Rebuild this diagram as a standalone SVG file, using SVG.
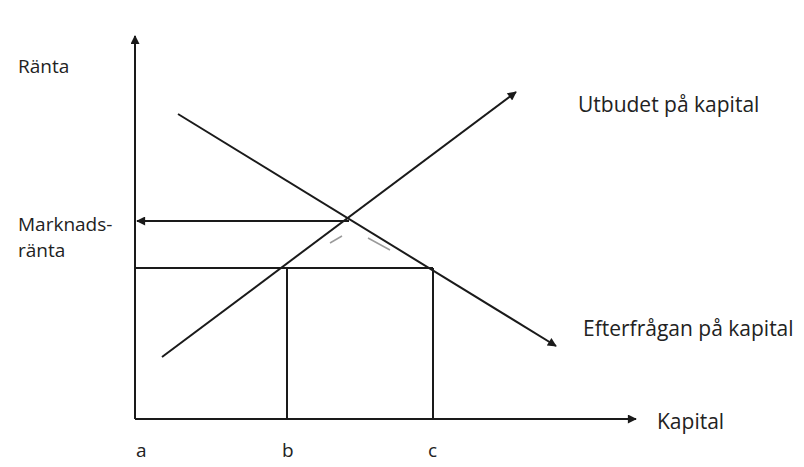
<svg xmlns="http://www.w3.org/2000/svg" width="804" height="467" viewBox="0 0 804 467">
<style>
  .ln { stroke: #1a1a1a; stroke-width: 2; fill: none; }
  .faint { stroke: #9a9a9a; stroke-width: 1.5; fill: none; }
  .lbl { font-family: "Open Sans", "Noto Sans", sans-serif; font-size: 21px; fill: #222; }
  .sm { font-size: 19px; }
</style>
<defs>
  <marker id="arrB" viewBox="0 0 10 10" refX="9" refY="5" markerWidth="14" markerHeight="9" markerUnits="userSpaceOnUse" orient="auto">
    <path d="M0,0 L10,5 L0,10 z" fill="#1a1a1a"/>
  </marker>
</defs>
<rect width="804" height="467" fill="#ffffff"/>
<g id="connectors">
  <line id="y-axis" class="ln" x1="135" y1="419" x2="135" y2="36" marker-end="url(#arrB)"/>
  <line id="x-axis" class="ln" x1="135" y1="419" x2="636" y2="419" marker-end="url(#arrB)"/>
  <line id="supply" class="ln" x1="162" y1="357" x2="516" y2="92" marker-end="url(#arrB)"/>
  <line id="demand" class="ln" x1="178" y1="114" x2="556" y2="346" marker-end="url(#arrB)"/>
  <line id="market-rate" class="ln" x1="349" y1="221" x2="137" y2="221" marker-end="url(#arrB)"/>
  <line id="low-rate" class="ln" x1="135" y1="268" x2="433" y2="268"/>
  <line id="drop-b" class="ln" x1="287" y1="268" x2="287" y2="419"/>
  <line id="drop-c" class="ln" x1="433" y1="268" x2="433" y2="419"/>
  <line class="faint" x1="330" y1="243" x2="342" y2="236"/>
  <line class="faint" x1="368" y1="238" x2="390" y2="250"/>
</g>
<g id="label-ranta"><text class="lbl sm" x="18" y="73">Ränta</text></g>
<g id="label-marknadsranta">
  <text class="lbl sm" x="18" y="231">Marknads-</text>
  <text class="lbl sm" x="18" y="257">ränta</text>
</g>
<g id="label-utbud"><text class="lbl" x="578" y="112">Utbudet på kapital</text></g>
<g id="label-efterfragan"><text class="lbl" x="583" y="336">Efterfrågan på kapital</text></g>
<g id="label-kapital"><text class="lbl" x="657" y="429">Kapital</text></g>
<g id="label-a"><text class="lbl sm" x="136" y="457">a</text></g>
<g id="label-b"><text class="lbl sm" x="282" y="457">b</text></g>
<g id="label-c"><text class="lbl sm" x="428" y="457">c</text></g>
</svg>
